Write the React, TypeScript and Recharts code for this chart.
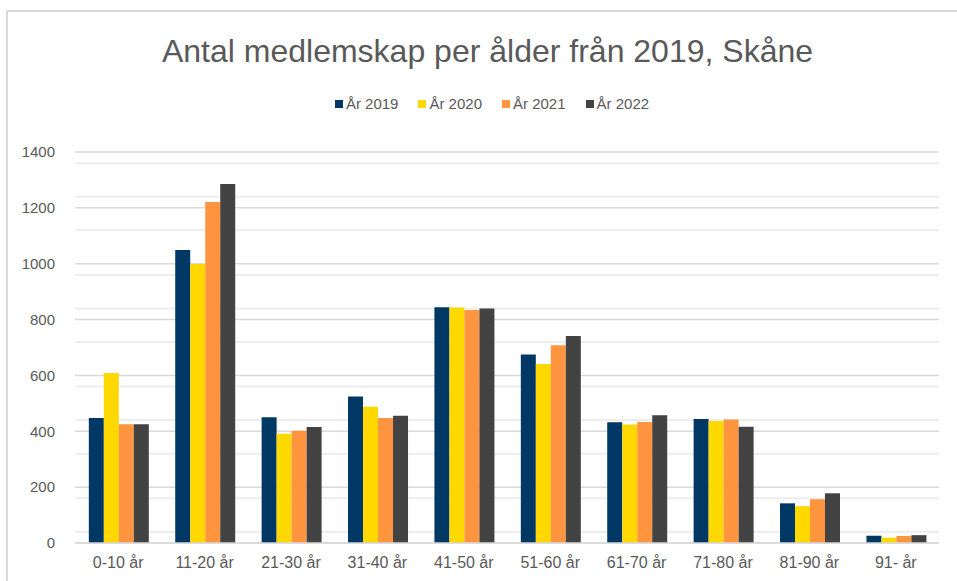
import React from 'react';
import { BarChart, Bar, XAxis, YAxis, CartesianGrid } from 'recharts';

const ageGroups = ['0-10 år', '11-20 år', '21-30 år', '31-40 år', '41-50 år', '51-60 år', '61-70 år', '71-80 år', '81-90 år', '91- år'];
const year2019 = [448, 1049, 450, 525, 844, 675, 432, 444, 142, 26];
const year2020 = [609, 999, 391, 488, 843, 641, 424, 437, 132, 19];
const year2021 = [425, 1221, 402, 448, 834, 708, 433, 442, 157, 25];
const year2022 = [425, 1285, 415, 456, 840, 741, 457, 416, 178, 28];
const yTicks = [0, 200, 400, 600, 800, 1000, 1200, 1400];
const minorTicks = [40, 80, 120, 160, 240, 280, 320, 360, 440, 480, 520, 560, 640, 680, 720, 760, 840, 880, 920, 960, 1040, 1080, 1120, 1160, 1240, 1280, 1320, 1360];

const series = [
  { key: 'y2019', name: 'År 2019', color: '#003865' },
  { key: 'y2020', name: 'År 2020', color: '#FFD800' },
  { key: 'y2021', name: 'År 2021', color: '#FF963F' },
  { key: 'y2022', name: 'År 2022', color: '#434343' },
];

const data = ageGroups.map((group, i) => ({
  group,
  y2019: year2019[i],
  y2020: year2020[i],
  y2021: year2021[i],
  y2022: year2022[i],
}));

const font = '"Liberation Sans", Arial, sans-serif';
const textColor = '#595959';

export default function App() {
  return (
    <div style={{ position: 'absolute', left: 0, top: 0, width: 957, height: 581, background: '#fff', overflow: 'hidden', fontFamily: font }}>
      <div
        style={{
          position: 'absolute',
          left: 6,
          top: 10,
          width: 970,
          height: 600,
          borderLeft: '2px solid #d9d9d9',
          borderTop: '2px solid #d9d9d9',
        }}
      />
      <div style={{ position: 'absolute', left: 0, width: 975, top: 33, textAlign: 'center', fontSize: 32, color: textColor }}>
        Antal medlemskap per ålder från 2019, Skåne
      </div>
      <div style={{ position: 'absolute', left: 0, width: 984, top: 95, display: 'flex', justifyContent: 'center', gap: 20, fontSize: 15, color: textColor }}>
        {series.map((s) => (
          <div key={s.key} style={{ display: 'flex', alignItems: 'center' }}>
            <span style={{ width: 8, height: 8, background: s.color, marginRight: 3, display: 'inline-block' }} />
            <span>{s.name}</span>
          </div>
        ))}
      </div>
      <div style={{ position: 'absolute', left: 0, top: 0 }}>
        <BarChart
          width={957}
          height={581}
          data={data}
          margin={{ top: 152, right: 18, left: 0, bottom: 8 }}
          barCategoryGap="16%"
          barGap={0}
        >
          <CartesianGrid vertical={false} horizontalValues={minorTicks} stroke="#ededed" strokeWidth={2} />
          <CartesianGrid vertical={false} stroke="#d9d9d9" strokeWidth={1.5} />
          <XAxis
            dataKey="group"
            height={30}
            tickLine={false}
            axisLine={{ stroke: '#d9d9d9', strokeWidth: 1.5 }}
            tickMargin={8}
            tick={{ fill: textColor, fontSize: 16, fontFamily: font }}
          />
          <YAxis
            width={75}
            domain={[0, 1400]}
            ticks={yTicks}
            tickLine={false}
            axisLine={false}
            tickMargin={14}
            tick={{ fill: textColor, fontSize: 15, fontFamily: font }}
          />
          {series.map((s) => (
            <Bar key={s.key} dataKey={s.key} name={s.name} fill={s.color} isAnimationActive={false} />
          ))}
        </BarChart>
      </div>
    </div>
  );
}
